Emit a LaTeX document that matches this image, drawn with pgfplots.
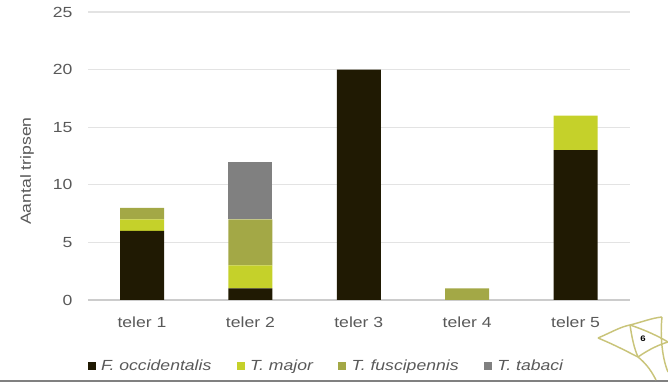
\documentclass[border=0pt]{standalone}
\usepackage{pgfplots}
\pgfplotsset{compat=1.18}
\usepackage{fontspec}
\setmainfont{Liberation Sans}[FakeStretch=1.2]
\definecolor{focc}{HTML}{201A03}
\definecolor{tmaj}{HTML}{C5D12A}
\definecolor{tfus}{HTML}{A3A846}
\definecolor{ttab}{HTML}{808080}
\definecolor{txt}{HTML}{595959}
\definecolor{gridc}{HTML}{E3E3E3}
\definecolor{logo}{HTML}{C9C47A}
\begin{document}
\begin{tikzpicture}
\useasboundingbox (0,0) rectangle (501pt,286.5pt);
\begin{axis}[
  at={(106.5pt,61.5pt)}, anchor=origin,
  scale only axis,
  width=406.5pt, height=216pt,
  xmin=-0.5, xmax=4.5, ymin=0, ymax=25,
  ybar stacked, bar width=33pt,
  xtick={0,1,2,3,4},
  xticklabels={teler 1,teler 2,teler 3,teler 4,teler 5},
  ytick={0,5,...,25},
  ymajorgrids, xmajorgrids=false,
  grid style={draw=gridc, line width=0.8pt},
  axis lines*=left,
  y axis line style={draw=none},
  x axis line style={draw=gridc!90!black, line width=1pt, -},
  tick style={draw=none},
  major tick length=0pt,
  tick label style={font=\fontsize{11}{13}\selectfont, text=txt},
  /pgf/number format/assume math mode=true,
  yticklabel style={anchor=east, xshift=-8pt},
  xticklabel style={anchor=north, yshift=-9pt},
  legend columns=4,
  legend style={at={(0.441,-0.229)}, anchor=center, draw=none, fill=none,
    font=\fontsize{11}{13}\selectfont\itshape, text=txt,
    /tikz/every odd column/.append style={column sep=2pt},
    /tikz/every even column/.append style={column sep=17pt}},
  legend image code/.code={\fill[#1] (0pt,-3pt) rectangle (6pt,3pt);},
  clip=false,
]
\addplot[fill=focc, draw=none] coordinates {(0,6) (1,1) (2,20) (3,0) (4,13)};
\addplot[fill=tmaj, draw=none] coordinates {(0,1) (1,2) (2,0) (3,0) (4,3)};
\addplot[fill=tfus, draw=none] coordinates {(0,1) (1,4) (2,0) (3,1) (4,0)};
\addplot[fill=ttab, draw=none] coordinates {(0,0) (1,5) (2,0) (3,0) (4,0)};
\legend{F. occidentalis, T. major, T. fuscipennis, T. tabaci}
\end{axis}
\begin{scope}[x=0.75pt,y=0.75pt]
\node[text=txt, rotate=90, font=\fontsize{11}{13}\selectfont] at (27,211) {Aantal tripsen};
% slide footer
\draw[ttab, line width=1.5pt] (0,1) -- (668,1);
\begin{scope}[draw=logo, line width=1.1pt]
  \draw (598,44) .. controls (612,50) and (620,55) .. (630,57)
        .. controls (642,60) and (652,64) .. (662,65);
  \draw (598,44) .. controls (615,37) and (628,30) .. (638,25);
  \draw (630,57) .. controls (632,44) and (634,34) .. (638,25);
  \draw (630,57) .. controls (645,52) and (658,46) .. (668,40);
  \draw (638,25) .. controls (648,32) and (658,37) .. (668,40);
  \draw (662,65) .. controls (660,47) and (662,24) .. (668,10);
  \draw (638,25) .. controls (644,20) and (650,14) .. (656,2);
\end{scope}
\node[font=\fontsize{6}{7}\selectfont\bfseries] at (643,43) {6};
\end{scope}
\end{tikzpicture}
\end{document}
